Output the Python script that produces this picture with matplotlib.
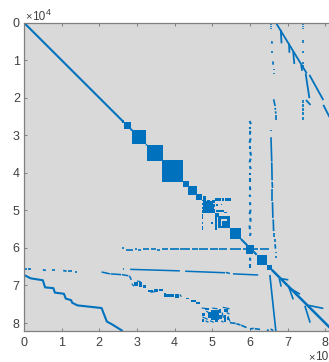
import matplotlib
matplotlib.use("Agg")
import matplotlib.pyplot as plt
from matplotlib.patches import Rectangle
from matplotlib.collections import LineCollection

plt.rcParams['font.family'] = ['Liberation Sans', 'DejaVu Sans']

BLUE = '#0072BD'
BG = '#D9D9D9'
TXT = '#404040'
SPINE = '#808080'

x_ticks = [0, 1, 2, 3, 4, 5, 6, 7, 8]
y_ticks = [0, 1, 2, 3, 4, 5, 6, 7, 8]
size = 8.22

# diagonal blocks: start, end (x 10^4)
blocks = [(2.60, 2.66), (2.65, 2.83), (2.87, 3.24), (3.26, 3.68), (3.67, 4.23),
          (4.22, 4.37), (4.35, 4.59), (4.57, 4.72), (4.72, 5.07), (5.07, 5.17),
          (5.15, 5.48), (5.47, 5.76), (5.93, 6.10), (6.18, 6.45), (6.45, 6.58)]
# pale holes inside the mottled blocks: x0, x1, y0, y1
holes = [(5.22, 5.38, 5.24, 5.29), (5.22, 5.27, 5.29, 5.42),
         (4.72, 4.76, 4.76, 4.80), (4.72, 4.75, 4.86, 4.90), (4.72, 4.76, 4.96, 5.00),
         (4.84, 4.87, 4.72, 4.75), (4.95, 4.99, 4.72, 4.75), (5.03, 5.07, 4.80, 4.84),
         (5.04, 5.07, 4.92, 4.96)]

# thick lines as polylines
diag_main = [[(0, 0), (2.62, 2.62)], [(2.83, 2.83), (2.87, 2.87)], [(3.24, 3.24), (3.26, 3.26)],
             [(4.59, 4.59), (4.60, 4.60)], [(5.76, 5.76), (5.93, 5.93)], [(6.10, 6.10), (6.18, 6.18)]]
diag_end = [[(6.58, 6.58), (8.22, 8.22)]]
staircase = [(0, 6.72), (0.18, 6.81), (0.50, 6.86), (0.56, 7.05), (0.78, 7.07), (0.82, 7.19),
             (1.06, 7.22), (1.11, 7.35), (1.25, 7.39), (1.28, 7.46), (1.42, 7.53), (2.06, 7.60),
             (2.20, 7.96), (2.33, 8.03), (2.62, 8.21)]
lower_right = [
    [(6.53, 6.72), (6.69, 8.22)],
    [(6.78, 6.81), (7.02, 6.85)], [(6.78, 6.81), (6.83, 7.03)],
    [(7.04, 7.06), (7.33, 7.23)], [(7.04, 7.06), (7.15, 7.37)],
    [(7.51, 7.52), (7.95, 7.61)], [(7.46, 7.54), (7.60, 7.99)],
]
upper_right = [
    [(6.69, 0.0), (7.51, 1.35)], [(7.58, 1.39), (7.95, 2.06)], [(7.95, 2.19), (8.22, 2.72)],
    [(6.82, 0.19), (6.84, 0.55)], [(7.04, 0.55), (7.05, 0.80)], [(7.15, 0.77), (7.18, 1.10)],
    [(7.36, 1.13), (7.39, 1.28)], [(7.48, 1.35), (7.58, 2.01)], [(7.49, 2.06), (7.61, 2.19)],
]
near_h = [
    [(2.82, 6.57), (4.14, 6.61)], [(4.28, 6.62), (5.34, 6.66)], [(5.36, 6.65), (5.47, 6.68)],
    [(5.55, 6.69), (6.22, 6.72)], [(2.06, 6.64), (2.28, 6.69)], [(2.30, 6.69), (2.58, 6.71)],
    [(2.60, 6.71), (2.77, 6.74)], [(2.80, 6.74), (2.85, 6.85)],
]
short_dashes = [
    [(0.03, 6.57), (0.08, 6.57)], [(0.11, 6.57), (0.18, 6.57)], [(0.50, 6.58), (0.58, 6.60)],
    [(0.74, 6.60), (0.82, 6.60)], [(1.04, 6.60), (1.13, 6.62)], [(1.18, 6.62), (1.27, 6.62)],
    [(1.35, 6.63), (1.41, 6.63)], [(2.63, 6.56), (2.66, 6.56)],
    # upper right vertical strips
    [(6.55, 0.02), (6.55, 0.05)], [(6.55, 0.08), (6.55, 0.11)], [(6.55, 0.15), (6.55, 0.18)],
    [(6.58, 0.49), (6.59, 0.56)], [(6.60, 0.76), (6.60, 0.80)], [(6.61, 1.03), (6.62, 1.12)],
    [(6.63, 1.22), (6.63, 1.25)], [(6.63, 1.34), (6.63, 1.37)],
    [(6.63, 2.04), (6.67, 2.22)], [(6.67, 2.27), (6.68, 2.32)], [(6.68, 2.36), (6.69, 2.42)],
    [(6.69, 2.46), (6.69, 2.59)],
    [(7.42, 0.02), (7.42, 0.05)], [(7.42, 0.08), (7.42, 0.11)], [(7.42, 0.15), (7.42, 0.18)],
    [(7.42, 0.47), (7.42, 0.55)], [(7.42, 0.76), (7.42, 0.80)], [(7.42, 1.04), (7.42, 1.10)],
    [(7.42, 1.13), (7.42, 1.20)],
    [(7.42, 2.06), (7.42, 2.14)], [(7.42, 2.17), (7.42, 2.25)], [(7.42, 2.28), (7.42, 2.36)],
    [(7.42, 2.39), (7.42, 2.47)], [(7.42, 2.50), (7.42, 2.60)],
    # bottom edge fragments
    [(5.47, 7.99), (5.62, 8.01)], [(5.64, 8.02), (5.75, 8.05)], [(5.77, 8.06), (5.91, 8.12)],
    [(6.00, 8.16), (6.10, 8.14)], [(6.13, 8.15), (6.27, 8.17)], [(6.55, 8.16), (6.62, 8.20)],
    [(6.45, 8.18), (6.50, 8.20)],
]
# vertical strip near x = 6.6 and x = 6.0
strip_66 = [[(6.56, 2.85), (6.56, 2.88)], [(6.56, 3.05), (6.58, 3.70)], [(6.58, 3.72), (6.59, 4.20)],
            [(6.59, 4.24), (6.60, 4.40)], [(6.60, 4.42), (6.60, 4.75)], [(6.60, 4.78), (6.61, 5.20)],
            [(6.62, 5.24), (6.63, 5.55)], [(6.65, 5.60), (6.65, 5.72)], [(6.67, 5.76), (6.67, 5.85)],
            [(6.67, 5.90), (6.68, 6.02)], [(6.69, 6.10), (6.69, 6.14)], [(6.69, 6.22), (6.69, 6.27)]]
strip_60 = [[(5.99, 2.62), (6.03, 2.70)], [(6.00, 2.78), (6.00, 2.82)], [(6.01, 2.88), (6.00, 2.98)],
            [(6.02, 3.08), (5.99, 3.20)], [(6.00, 3.28), (6.00, 3.36)], [(6.01, 3.44), (6.03, 3.54)],
            [(6.02, 3.62), (5.99, 3.72)], [(6.00, 3.82), (6.02, 3.90)], [(6.00, 4.00), (6.00, 4.06)],
            [(6.00, 4.14), (6.00, 4.24)], [(6.00, 4.36), (6.01, 4.46)], [(5.99, 4.58), (6.01, 4.64)],
            [(6.00, 4.78), (6.01, 4.86)], [(6.02, 4.98), (5.99, 5.10)], [(6.01, 5.20), (6.02, 5.30)],
            [(5.99, 5.40), (6.00, 5.50)], [(6.02, 5.60), (6.00, 5.68)],
            [(6.00, 6.26), (6.01, 6.34)], [(6.00, 6.42), (6.00, 6.53)]]
# dotted horizontal band at y about 6.03
band_603 = [(2.60, 2.66, 6.00), (2.70, 2.90, 6.05), (2.94, 2.99, 6.02), (3.03, 3.12, 6.05),
            (3.16, 3.32, 6.03), (3.36, 3.50, 6.03), (3.54, 3.62, 6.05), (3.66, 3.82, 6.04),
            (3.88, 4.12, 6.04), (4.15, 4.42, 6.03), (4.46, 4.62, 6.04), (4.66, 4.90, 6.04),
            (4.94, 5.14, 6.03), (5.18, 5.40, 6.03), (5.46, 5.76, 6.04), (5.82, 5.94, 6.04),
            (6.12, 6.22, 6.03), (6.26, 6.50, 6.04)]
# sparse clusters: x0, x1, y0, y1
clusters = [(2.92, 3.04, 6.92, 7.02), (3.06, 3.14, 6.90, 7.03), (3.16, 3.24, 6.98, 7.06),
            (3.30, 3.42, 7.12, 7.18), (3.46, 3.56, 7.10, 7.16), (3.58, 3.68, 7.08, 7.15),
            (3.72, 3.76, 7.20, 7.30), (3.76, 3.98, 7.22, 7.31), (4.02, 4.12, 7.22, 7.33),
            (4.30, 4.38, 7.33, 7.36), (4.44, 4.56, 7.38, 7.43), (4.58, 4.67, 7.44, 7.50),
            (4.96, 5.18, 7.66, 7.92), (4.90, 4.96, 7.70, 7.86), (5.18, 5.24, 7.62, 7.72),
            (5.18, 5.26, 7.78, 7.88),
            (4.72, 4.80, 7.74, 7.80), (5.06, 5.14, 7.92, 7.98),
            (5.30, 5.42, 7.62, 7.70), (5.30, 5.36, 7.78, 7.96), (4.72, 4.78, 7.88, 7.98),
            (4.80, 4.92, 7.60, 7.66), (5.38, 5.44, 7.84, 7.92)]
specks = [[(4.72, 7.60), (4.90, 7.62)], [(4.84, 7.68), (4.90, 7.72)], [(4.74, 7.84), (4.88, 7.90)],
          [(5.28, 7.58), (5.46, 7.62)], [(5.38, 7.72), (5.46, 7.76)], [(5.42, 7.82), (5.47, 7.96)],
          [(5.26, 7.72), (5.30, 7.86)], [(4.82, 7.94), (4.90, 7.98)], [(5.24, 7.94), (5.30, 7.98)],
          [(2.86, 6.95), (2.92, 7.02)], [(3.00, 6.88), (3.10, 6.90)], [(3.36, 7.18), (3.50, 7.16)],
          [(4.14, 7.24), (4.18, 7.30)], [(5.00, 7.60), (5.14, 7.62)], [(4.94, 7.94), (5.04, 7.98)]]
# off-diagonal pieces around the 4.7-5.5 blocks
side_bits = [(5.08, 5.22, 4.68, 4.74), (5.26, 5.30, 4.68, 4.74), (5.34, 5.50, 4.68, 4.74),
             (5.10, 5.14, 4.82, 4.88), (5.22, 5.26, 4.82, 4.86), (5.10, 5.30, 5.00, 5.05),
             (5.32, 5.40, 5.04, 5.08), (4.72, 4.76, 5.10, 5.22), (4.72, 4.76, 5.30, 5.36),
             (4.72, 4.76, 5.42, 5.52), (4.98, 5.02, 5.30, 5.36), (5.08, 5.13, 5.08, 5.52),
             (4.76, 4.84, 4.62, 4.72), (5.90, 6.07, 5.92, 6.16)]

fig = plt.figure(figsize=(3.29, 3.62), dpi=100)
W, H = 329.0, 362.0
ax = fig.add_axes([24 / W, 1 - 331.3 / H, (size * 37.65) / W, (331.3 - 22.7) / H])
ax.set_facecolor(BG)
ax.set_xlim(0, size)
ax.set_ylim(size, 0)


def square(x0, x1, y0, y1, color=BLUE):
    ax.add_patch(Rectangle((x0, y0), x1 - x0, y1 - y0, facecolor=color, edgecolor='none', zorder=2))


def lines(segs, lw):
    ax.add_collection(LineCollection(segs, colors=BLUE, linewidths=lw, capstyle='butt', zorder=2))


for a, b in blocks:
    square(a, b, a, b)
for x0, x1, y0, y1 in holes:
    square(x0, x1, y0, y1, BG)
for x0, x1, y0, y1 in clusters + side_bits:
    square(x0, x1, y0, y1)

lines(diag_main, 1.5)
lines(diag_end, 1.8)
lines([staircase], 1.5)
lines(lower_right, 1.2)
lines(upper_right, 1.3)
lines(near_h, 1.1)
lines(short_dashes, 1.2)
lines(strip_66, 1.2)
lines(strip_60, 1.5)
lines(specks, 0.9)
lines([[(a, y), (b, y)] for a, b, y in band_603], 1.2)

ax.set_xticks(x_ticks)
ax.set_yticks(y_ticks)
ax.xaxis.tick_bottom()
ax.tick_params(axis='both', direction='in', length=2.4, width=0.7, color=SPINE,
               labelcolor=TXT, labelsize=9, top=True, bottom=True, left=True, right=False)
ax.tick_params(axis='x', pad=4)
ax.tick_params(axis='y', pad=3)
for s in ['left', 'top', 'bottom']:
    ax.spines[s].set_color(SPINE)
    ax.spines[s].set_linewidth(0.9)
ax.spines['right'].set_visible(False)

fig.text(25.5 / W, 1 - 19.5 / H, '×', color=TXT, fontsize=8, va='baseline')
fig.text(32 / W, 1 - 19.5 / H, '10', color=TXT, fontsize=8.5, va='baseline')
fig.text(45.5 / W, 1 - 15 / H, '4', color=TXT, fontsize=6.5, va='baseline')
fig.text(308 / W, 1 - 360 / H, '×', color=TXT, fontsize=8, va='baseline')
fig.text(315 / W, 1 - 360 / H, '10', color=TXT, fontsize=8.5, va='baseline')

fig.savefig('out.png', dpi=100)
